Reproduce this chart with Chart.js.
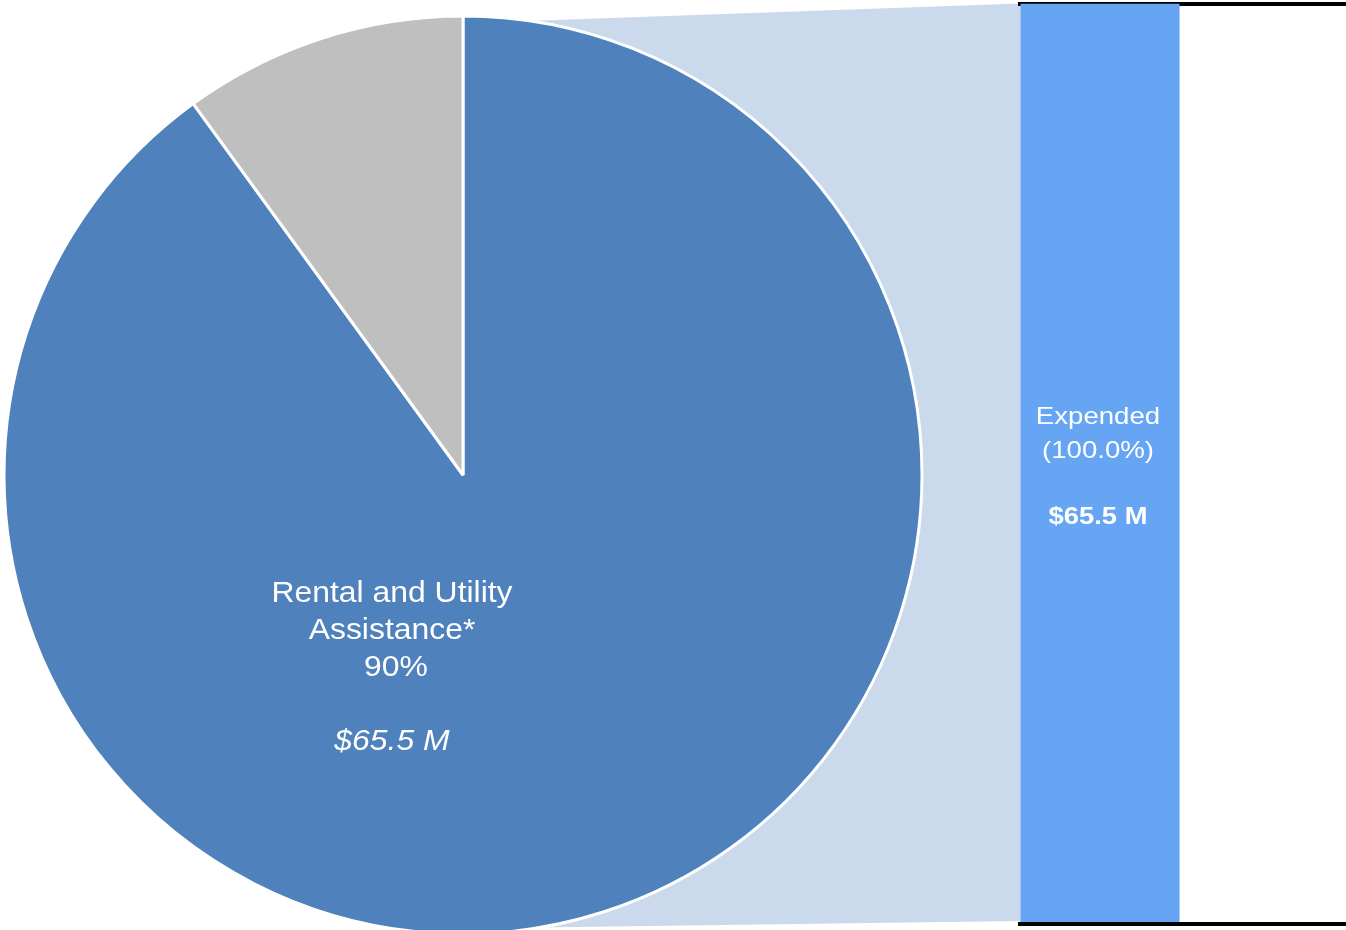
<!DOCTYPE html>
<html>
<head>
<meta charset="utf-8">
<script src="https://cdn.jsdelivr.net/npm/chart.js@4.4.1/dist/chart.umd.min.js"></script>
<style>
    html, body { margin: 0; padding: 0; background: #fff; overflow: hidden; }
    #wrap { position: relative; width: 1346px; height: 930px; overflow: hidden; }
    #wrap canvas { position: absolute; left: 0; top: 0; }
</style>
</head>
<body>
<div id="wrap">
    <canvas id="pieChart" width="1346" height="930"></canvas>
    <canvas id="barChart" width="1346" height="930"></canvas>
</div>
<script>
// Data
const pieLabels = ['Rental and Utility Assistance*', 'Other'];
const pieValues = [90, 10];
const pieAmount = '$65.5 M';
const barLabels = ['Expended', ''];
const barValues = [100, null];
const barAmount = '$65.5 M';

const FONT = '"Liberation Sans", Arial, Helvetica, sans-serif';

// stretched text helper (the reference text is a bit wide)
function wideText(ctx, text, x, y, font, sx) {
    ctx.save();
    ctx.font = font;
    ctx.translate(x, y);
    ctx.scale(sx, 1);
    ctx.fillText(text, 0, 0);
    ctx.restore();
}

const barLabelPlugin = {
    id: 'barLabel',
    afterDatasetsDraw(chart) {
        const bar = chart.getDatasetMeta(0).data[0];
        const ctx = chart.ctx;
        const cx = bar.x - 2;
        const cy = (bar.y + bar.base) / 2;
        ctx.save();
        ctx.fillStyle = '#fff';
        ctx.textAlign = 'center';
        ctx.textBaseline = 'middle';
        const pct = (barValues[0] / barValues[0] * 100).toFixed(1);
        wideText(ctx, barLabels[0], cx, cy - 45, '24px ' + FONT, 1.15);
        wideText(ctx, '(' + pct + '%)', cx, cy - 11, '24px ' + FONT, 1.15);
        wideText(ctx, barAmount, cx, cy + 55, 'bold 24px ' + FONT, 1.14);
        ctx.restore();
    }
};

const barChart = new Chart(document.getElementById('barChart'), {
    type: 'bar',
    data: {
        labels: barLabels,
        datasets: [{
            data: barValues,
            backgroundColor: '#66A5F3',
            borderWidth: 0,
            categoryPercentage: 0.97,
            barPercentage: 1,
        }]
    },
    options: {
        responsive: false,
        animation: false,
        layout: { padding: { left: 1018, right: 0, top: 3.5, bottom: 6 } },
        plugins: { legend: { display: false }, tooltip: { enabled: false } },
        scales: {
            x: { display: false },
            y: {
                min: 0, max: 100, z: 1,
                ticks: { display: false, stepSize: 100 },
                grid: { color: '#000', lineWidth: 4, drawTicks: false },
                border: { display: false }
            }
        }
    },
    plugins: [barLabelPlugin]
});

// light band joining the pie to the bar, drawn under the pie
const connectorPlugin = {
    id: 'connector',
    beforeDatasetsDraw(chart) {
        const arc = chart.getDatasetMeta(0).data[0];
        const bar = barChart.getDatasetMeta(0).data[0];
        const barLeft = bar.x - bar.width / 2;
        const ctx = chart.ctx;
        ctx.save();
        ctx.fillStyle = '#CAD9EB';
        ctx.beginPath();
        ctx.moveTo(arc.x, arc.y - arc.outerRadius * 0.984);
        ctx.lineTo(barLeft, bar.y);
        ctx.lineTo(barLeft, bar.base - 1);
        ctx.lineTo(arc.x, arc.y + arc.outerRadius * 0.988);
        ctx.closePath();
        ctx.fill();
        ctx.restore();
    }
};

const pieLabelPlugin = {
    id: 'pieLabel',
    afterDatasetsDraw(chart) {
        const arc = chart.getDatasetMeta(0).data[0];
        const ctx = chart.ctx;
        const total = pieValues.reduce((a, b) => a + b, 0);
        const pct = Math.round(pieValues[0] / total * 100) + '%';
        const cx = arc.x - 71;
        const cy = arc.y;
        ctx.save();
        ctx.fillStyle = '#fff';
        ctx.textAlign = 'center';
        ctx.textBaseline = 'middle';
        wideText(ctx, 'Rental and Utility', cx, cy + 119, '29px ' + FONT, 1.1);
        wideText(ctx, 'Assistance*', cx, cy + 156, '29px ' + FONT, 1.1);
        wideText(ctx, pct, cx + 4, cy + 193, '29px ' + FONT, 1.1);
        wideText(ctx, pieAmount, cx, cy + 267, 'italic 29px ' + FONT, 1.1);
        ctx.restore();
    }
};

new Chart(document.getElementById('pieChart'), {
    type: 'pie',
    data: {
        labels: pieLabels,
        datasets: [{
            data: pieValues,
            backgroundColor: ['#4F81BD', '#BFBFBF'],
            borderColor: '#fff',
            borderWidth: 3,
            radius: 459,
        }]
    },
    options: {
        responsive: false,
        animation: false,
        layout: { padding: { left: 4, right: 424, top: 20, bottom: 0 } },
        plugins: { legend: { display: false }, tooltip: { enabled: false } }
    },
    plugins: [connectorPlugin, pieLabelPlugin]
});
</script>
</body>
</html>
